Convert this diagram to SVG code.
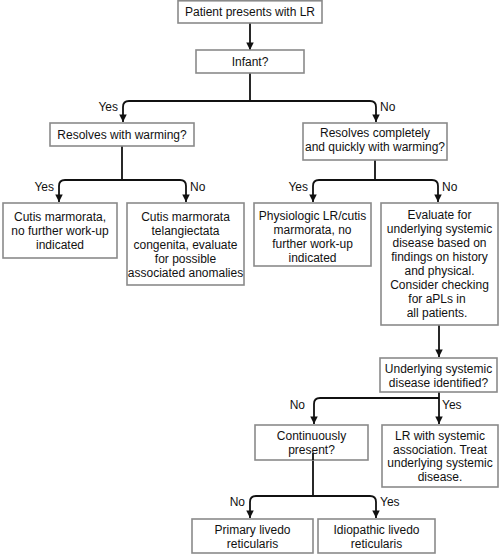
<svg xmlns="http://www.w3.org/2000/svg" width="499" height="556" viewBox="0 0 499 556">
<defs>
<style>
.box{fill:#fff;stroke:#8a8a8a;stroke-width:1.6}
.t{font-family:"Liberation Sans",Arial,sans-serif;font-size:12px;fill:#111;text-anchor:middle}
.l{font-family:"Liberation Sans",Arial,sans-serif;font-size:12px;fill:#111}
.c{fill:none;stroke:#111;stroke-width:1.8}
</style>
<marker id="ah" viewBox="0 0 10 10" refX="10" refY="5" markerWidth="4.2" markerHeight="4.2" orient="auto" markerUnits="strokeWidth">
<path d="M0,0 L10,5 L0,10 z" fill="#111"/>
</marker>
</defs>
<rect width="499" height="556" fill="#fff"/>
<g id="connectors">
<path class="c" d="M250 23 V50" marker-end="url(#ah)"/>
<path class="c" d="M250 73 V101"/>
<path class="c" d="M250 101 H129 Q123 101 123 107 V122" marker-end="url(#ah)"/>
<path class="c" d="M250 101 H370 Q376 101 376 107 V122" marker-end="url(#ah)"/>
<path class="c" d="M122 146 V180"/>
<path class="c" d="M122 180 H65 Q59 180 59 186 V202" marker-end="url(#ah)"/>
<path class="c" d="M122 180 H180 Q186 180 186 186 V202" marker-end="url(#ah)"/>
<path class="c" d="M375 160 V180"/>
<path class="c" d="M375 180 H319 Q313 180 313 186 V202" marker-end="url(#ah)"/>
<path class="c" d="M375 180 H432 Q438 180 438 186 V202" marker-end="url(#ah)"/>
<path class="c" d="M439 325 V357" marker-end="url(#ah)"/>
<path class="c" d="M439 392 V424" marker-end="url(#ah)"/>
<path class="c" d="M439 398 H320 Q314 398 314 404 V424" marker-end="url(#ah)"/>
<path class="c" d="M313 453 V496"/>
<path class="c" d="M313 496 H256 Q250 496 250 502 V518" marker-end="url(#ah)"/>
<path class="c" d="M313 496 H370 Q376 496 376 502 V518" marker-end="url(#ah)"/>
<text class="l" x="118" y="111" text-anchor="end">Yes</text>
<text class="l" x="380" y="111">No</text>
<text class="l" x="54" y="191" text-anchor="end">Yes</text>
<text class="l" x="190" y="191">No</text>
<text class="l" x="308" y="191" text-anchor="end">Yes</text>
<text class="l" x="442" y="191">No</text>
<text class="l" x="305" y="409" text-anchor="end">No</text>
<text class="l" x="442" y="409">Yes</text>
<text class="l" x="245" y="506" text-anchor="end">No</text>
<text class="l" x="380" y="506">Yes</text>
</g>
<g id="n1"><rect class="box" x="178" y="0.8" width="144" height="22.2"/><text class="t" x="250" y="16">Patient presents with LR</text></g>
<g id="n2"><rect class="box" x="196" y="50" width="108" height="23"/><text class="t" x="250" y="66">Infant?</text></g>
<g id="n3"><rect class="box" x="50" y="123" width="144" height="23"/><text class="t" x="122" y="139">Resolves with warming?</text></g>
<g id="n4"><rect class="box" x="303" y="123" width="144" height="37"/><text class="t" x="375" y="137">Resolves completely</text><text class="t" x="375" y="151">and quickly with warming?</text></g>
<g id="n5"><rect class="box" x="3" y="203" width="114" height="55"/><text class="t" x="60" y="221">Cutis marmorata,</text><text class="t" x="60" y="235">no further work-up</text><text class="t" x="60" y="249">indicated</text></g>
<g id="n6"><rect class="box" x="127" y="203" width="117" height="82"/><text class="t" x="185.5" y="221">Cutis marmorata</text><text class="t" x="185.5" y="235">telangiectata</text><text class="t" x="185.5" y="249">congenita, evaluate</text><text class="t" x="185.5" y="263">for possible</text><text class="t" x="185.5" y="277">associated anomalies</text></g>
<g id="n7"><rect class="box" x="254" y="203" width="117" height="63"/><text class="t" x="312.5" y="220">Physiologic LR/cutis</text><text class="t" x="312.5" y="234">marmorata, no</text><text class="t" x="312.5" y="248">further work-up</text><text class="t" x="312.5" y="262">indicated</text></g>
<g id="n8"><rect class="box" x="381" y="203" width="117" height="122"/><text class="t" x="439.5" y="219">Evaluate for</text><text class="t" x="439.5" y="233">underlying systemic</text><text class="t" x="439.5" y="247">disease based on</text><text class="t" x="439.5" y="261">findings on history</text><text class="t" x="439.5" y="275">and physical.</text><text class="t" x="439.5" y="289">Consider checking</text><text class="t" x="437" y="303">for aPLs in</text><text class="t" x="437" y="317">all patients.</text></g>
<g id="n9"><rect class="box" x="380" y="358" width="117" height="34"/><text class="t" x="438.5" y="373">Underlying systemic</text><text class="t" x="438.5" y="387">disease identified?</text></g>
<g id="n10"><rect class="box" x="255" y="425" width="113" height="35"/><text class="t" x="311.5" y="440">Continuously</text><text class="t" x="311.5" y="454">present?</text></g>
<g id="n10line"><path class="c" d="M313 453 V460"/></g>
<g id="n11"><rect class="box" x="382" y="425" width="116" height="62"/><text class="t" x="440" y="440">LR with systemic</text><text class="t" x="440" y="454">association. Treat</text><text class="t" x="440" y="467">underlying systemic</text><text class="t" x="440" y="481">disease.</text></g>
<g id="n12"><rect class="box" x="192" y="519" width="121" height="34"/><text class="t" x="252.5" y="534">Primary livedo</text><text class="t" x="252.5" y="548">reticularis</text></g>
<g id="n13"><rect class="box" x="318" y="519" width="117" height="34"/><text class="t" x="376.5" y="534">Idiopathic livedo</text><text class="t" x="376.5" y="548">reticularis</text></g>
</svg>
